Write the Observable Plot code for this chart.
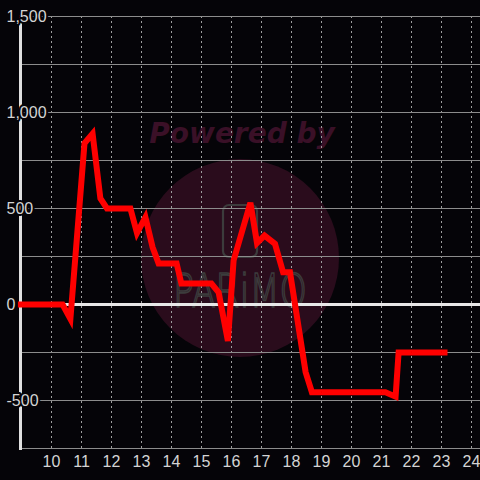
<!DOCTYPE html>
<html>
<head>
<meta charset="utf-8">
<script src="https://cdn.jsdelivr.net/npm/d3@7"></script>
<script src="https://cdn.jsdelivr.net/npm/@observablehq/plot@0.6"></script>
<style>
  html, body { margin: 0; padding: 0; background: #050408; }
  #wrap { position: relative; width: 480px; height: 480px; background: #050408; overflow: hidden; }
  #wrap svg { position: absolute; left: 0; top: 0; }
</style>
</head>
<body>
<div id="wrap"></div>
<script>
// Data (hour of day, value)
const hours  = [8.88, 10.37, 10.63, 11.1, 11.37, 11.63, 11.85, 12.63, 12.85, 13.13, 13.37, 13.57, 14.17, 14.33, 15.33, 15.57, 15.88, 16.07, 16.63, 16.85, 17.1, 17.45, 17.72, 17.95, 18.47, 18.68, 21.13, 21.47, 21.57, 23.2];
const values = [0, 0, -75, 840, 890, 552, 500, 500, 372, 455, 298, 214, 214, 109, 109, 64, -190, 229, 530, 320, 359, 316, 168, 168, -352, -457, -457, -480, -250, -250];

const xTicks = [10, 11, 12, 13, 14, 15, 16, 17, 18, 19, 20, 21, 22, 23, 24];
const yGrid = [-750, -500, -250, 250, 500, 750, 1000, 1250, 1500];
const yLabelValues = [-500, 0, 500, 1000, 1500];
const yLabelTexts = ["-500", "0", "500", "1,000", "1,500"];

const data = hours.map((h, i) => ({hour: h, value: values[i]}));

const wrap = document.getElementById("wrap");

// Watermark (decoration behind the chart)
const ns = "http://www.w3.org/2000/svg";
const wm = document.createElementNS(ns, "svg");
wm.setAttribute("width", 480);
wm.setAttribute("height", 480);
wm.innerHTML = `
  <circle cx="240" cy="258" r="99" fill="#2a0c1c"/>
  <text x="242" y="143" text-anchor="middle" font-family="DejaVu Sans" font-weight="bold" font-style="italic" font-size="28" fill="#3a1027">Powered by</text>
  <rect x="223" y="205" width="34" height="52" rx="6" ry="6" fill="none" stroke="#3c3c3c" stroke-width="2.2"/>
  <text x="173" y="307" textLength="134" lengthAdjust="spacingAndGlyphs" font-family="DejaVu Sans" font-weight="200" font-size="46" fill="none" stroke="#3c3c3c" stroke-width="1.6">PARiMO</text>
`;
wrap.appendChild(wm);

const chart = Plot.plot({
  width: 480,
  height: 480,
  marginLeft: 20,
  marginRight: 0,
  marginTop: 16,
  marginBottom: 32,
  style: {background: "transparent", color: "#d4d4d4", fontFamily: "Liberation Sans, Arial, sans-serif", fontSize: "16px"},
  x: {domain: [8.9667, 24.3], ticks: xTicks, tickFormat: d => String(d), tickSize: 0, tickPadding: 7, label: null},
  y: {domain: [-750, 1500], axis: null},
  marks: [
    Plot.ruleX(xTicks, {stroke: "#a0a0a0", strokeWidth: 1, strokeDasharray: "2,3"}),
    Plot.ruleY(yGrid, {stroke: "#8c8c8c", strokeWidth: 1}),
    Plot.ruleY([0], {stroke: "#e8e8e8", strokeWidth: 3}),
    Plot.frame({anchor: "left", stroke: "#e0e0e0", strokeWidth: 3}),
    Plot.text(yLabelValues, {
      y: d => d,
      frameAnchor: "left",
      text: (d, i) => yLabelTexts[i],
      textAnchor: "start",
      dx: -14,
      fill: "#d4d4d4",
      stroke: "#050408",
      strokeWidth: 4,
      fontSize: 16
    }),
    Plot.line(data, {x: "hour", y: "value", stroke: "#ff0000", strokeWidth: 6, strokeLinejoin: "miter", strokeMiterlimit: 4, strokeLinecap: "butt"})
  ]
});
wrap.appendChild(chart);
</script>
</body>
</html>
